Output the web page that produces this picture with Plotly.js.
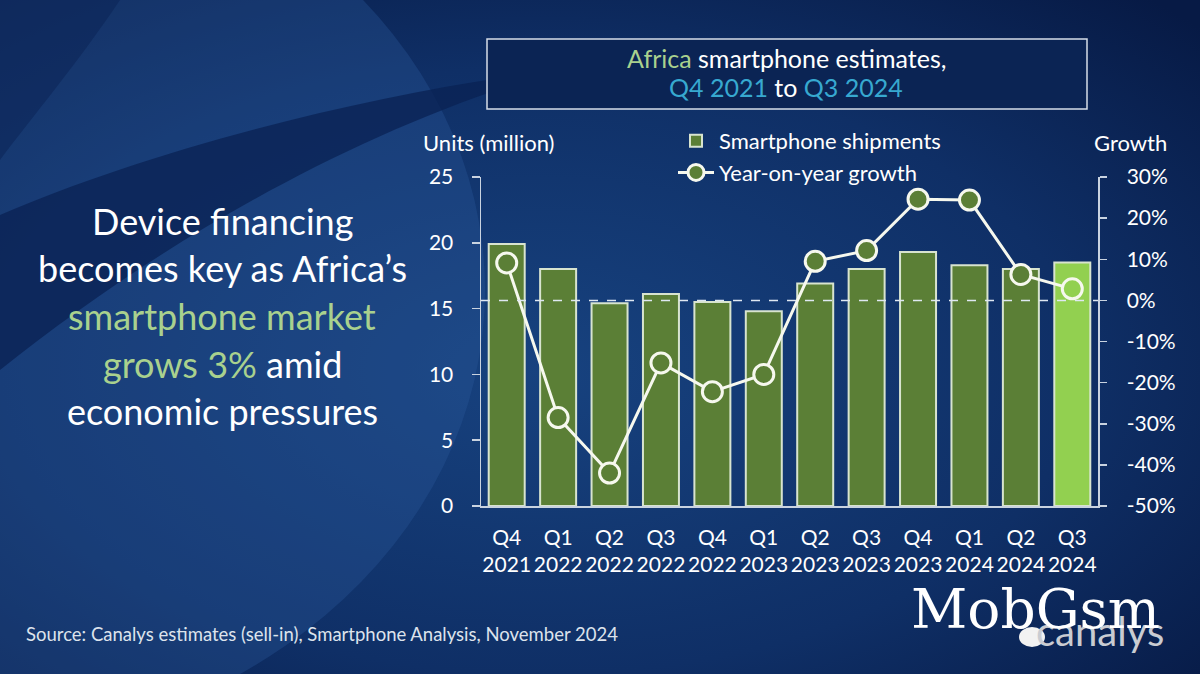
<!DOCTYPE html>
<html>
<head>
<meta charset="utf-8">
<script src="https://cdn.plot.ly/plotly-3.0.1.min.js"></script>
<style>
  html, body { margin: 0; padding: 0; background: #0d2a5e; }
  #chart { width: 1200px; height: 674px; }
</style>
</head>
<body>
<div id="chart"></div>
<script>
// quarters and values
var quarters = ["Q4<br>2021", "Q1<br>2022", "Q2<br>2022", "Q3<br>2022", "Q4<br>2022", "Q1<br>2023",
                "Q2<br>2023", "Q3<br>2023", "Q4<br>2023", "Q1<br>2024", "Q2<br>2024", "Q3<br>2024"];
var shipments = [19.9, 18.0, 15.4, 16.1, 15.5, 14.8, 16.9, 18.0, 19.3, 18.3, 18.0, 18.5];
var growth = [0.091, -0.285, -0.42, -0.152, -0.222, -0.18, 0.095, 0.121, 0.246, 0.244, 0.063, 0.028];

var unitTicks = [0, 5, 10, 15, 20, 25];
var growthTicks = [-0.5, -0.4, -0.3, -0.2, -0.1, 0, 0.1, 0.2, 0.3];
var growthTickLabels = ["-50%", "-40%", "-30%", "-20%", "-10%", "0%", "10%", "20%", "30%"];

var darkGreen = "#5b7f36";
var lightGreen = "#92d050";
var FONT = "Lato, 'Open Sans', sans-serif";

// plot area in pixels, used to place the slide decorations
var L = 481, R = 1098, T = 177, B = 506;
function px(x) { return (x - L) / (R - L); }
function py(y) { return (B - y) / (B - T); }

var last = quarters.length - 1;
var barColors = quarters.map(function (q, i) { return i === last ? lightGreen : darkGreen; });

var bars = {
    type: "bar",
    name: "Smartphone shipments",
    x: quarters,
    y: shipments,
    marker: {color: barColors, line: {color: "#d8e4cf", width: 2}},
    hoverinfo: "skip"
};

var yoy = {
    type: "scatter",
    mode: "lines+markers",
    name: "Year-on-year growth",
    x: quarters,
    y: growth,
    yaxis: "y2",
    line: {color: "#f6f8ee", width: 3},
    marker: {size: 20, color: barColors, line: {color: "#f6f8ee", width: 3}},
    hoverinfo: "skip"
};

var bg = "<svg xmlns='http://www.w3.org/2000/svg' width='1200' height='674' viewBox='0 0 1200 674'>" +
    "<defs><radialGradient id='g' cx='0.45' cy='0.55' r='0.75'>" +
    "<stop offset='0' stop-color='#17427f'/><stop offset='0.6' stop-color='#0f2f66'/>" +
    "<stop offset='1' stop-color='#071a45'/></radialGradient></defs>" +
    "<rect width='1200' height='674' fill='url(#g)'/>" +
    "<ellipse cx='-60' cy='290' rx='545' ry='460' fill='#2a5a9c' fill-opacity='0.35'/>" +
    "<path d='M560,70 C380,90 150,150 0,215 L0,370 C150,250 350,130 560,70 Z' fill='#0a2153' fill-opacity='0.75'/>" +
    "<path d='M0,0 L120,0 C80,60 30,120 0,160 Z' fill='#0a2153' fill-opacity='0.5'/>" +
    "</svg>";

var axisColor = "#c9d3e0";
var white = "#ffffff";
var green = "#a9d18e";
var cyan = "#37a9d0";

function note(text, x, y, size, color, anchor, family) {
    return {
        text: text, xref: "paper", yref: "paper", x: px(x), y: py(y),
        xanchor: anchor || "center", yanchor: "middle", showarrow: false,
        font: {family: family || FONT, size: size, color: color || white}
    };
}

var annotations = [
    note("<span style='color:" + green + "'>Africa</span> smartphone estimates,", 786, 58, 25),
    note("<span style='color:" + cyan + "'>Q4 2021</span> to <span style='color:" + cyan + "'>Q3 2024</span>", 786, 87, 25),
    note("Units (million)", 421, 142, 22, white, "left"),
    note("Growth", 1092, 142, 22, white, "left"),
    note("Device financing", 222, 221, 36),
    note("becomes key as Africa\u2019s", 222, 268, 36),
    note("<span style='color:" + green + "'>smartphone market</span>", 222, 316, 36),
    note("<span style='color:" + green + "'>grows 3%</span> amid", 222, 364, 36),
    note("economic pressures", 222, 411, 36),
    note("Source: Canalys estimates (sell-in), Smartphone Analysis, November 2024", 24, 634, 18.5, "#dde3ec", "left"),
    note("canalys", 1034, 631, 40, "#c9ccd2", "left"),
    note("MobGsm", 1035, 609, 55, white, "center", "'DejaVu Serif', serif")
];

var shapes = [
    {type: "rect", xref: "paper", yref: "paper", x0: px(487), x1: px(1087), y0: py(39), y1: py(109),
     line: {color: "#d6dde8", width: 1.5}, fillcolor: "#0b2454", layer: "below"},
    {type: "line", xref: "paper", yref: "y2", x0: 0, x1: 1, y0: 0, y1: 0,
     line: {color: "#dfe8f2", width: 1.5, dash: "dash"}},
    {type: "circle", xref: "paper", yref: "paper", x0: px(1019), x1: px(1045), y0: py(647), y1: py(627),
     fillcolor: "#f2f2f2", line: {width: 0}}
];

var layout = {
    width: 1200,
    height: 674,
    margin: {l: L, r: 1200 - R, t: T, b: 674 - B, pad: 0},
    paper_bgcolor: "#0d2a5e",
    plot_bgcolor: "rgba(0,0,0,0)",
    font: {family: FONT, color: white, size: 21},
    bargap: 0.3,
    showlegend: true,
    legend: {x: px(673), y: py(120), xanchor: "left", yanchor: "top", bgcolor: "rgba(0,0,0,0)",
             font: {family: FONT, size: 22, color: white}, tracegroupgap: 0, itemwidth: 36},
    xaxis: {type: "category", range: [-0.5, 11.5], showline: true, linecolor: axisColor, linewidth: 1.5,
            ticks: "", showgrid: false, ticklabelstandoff: 12,
            tickfont: {family: FONT, size: 21, color: white}},
    yaxis: {range: [0, 25], tickvals: unitTicks, showgrid: false, zeroline: false, showline: true,
            linecolor: axisColor, linewidth: 1.5, ticks: "outside", ticklen: 8, tickcolor: axisColor,
            tickwidth: 1.5, ticklabelstandoff: 14, tickfont: {family: FONT, size: 21, color: white}},
    yaxis2: {overlaying: "y", side: "right", range: [-0.5, 0.3], tickvals: growthTicks,
             ticktext: growthTickLabels, showgrid: false, zeroline: false, showline: true,
             linecolor: axisColor, linewidth: 1.5, ticks: "outside", ticklen: 7, tickcolor: axisColor,
             tickwidth: 1.5, ticklabelstandoff: 16, tickfont: {family: FONT, size: 21, color: white}},
    annotations: annotations,
    shapes: shapes,
    images: [{source: "data:image/svg+xml;charset=utf-8," + encodeURIComponent(bg),
              xref: "paper", yref: "paper", x: px(0), y: py(0), sizex: 1200 / (R - L), sizey: 674 / (B - T),
              xanchor: "left", yanchor: "top", sizing: "stretch", layer: "below"}]
};

Plotly.newPlot("chart", [bars, yoy], layout, {displayModeBar: false, staticPlot: true});
</script>
</body>
</html>
